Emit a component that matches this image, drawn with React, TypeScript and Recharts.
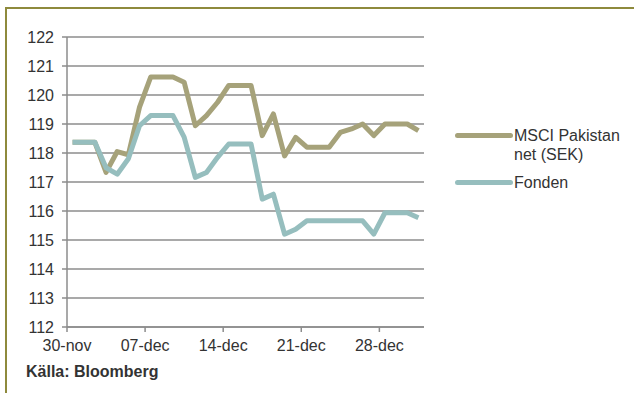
import { LineChart, Line, XAxis, YAxis, CartesianGrid } from 'recharts';

// one value per calendar day, 30-nov .. 31-dec
const msci = [
  118.37, 118.37, 118.37, 117.33, 118.05, 117.94, 119.58, 120.62, 120.62, 120.62,
  120.44, 118.94, 119.29, 119.75, 120.33, 120.33, 120.33, 118.6, 119.35, 117.9,
  118.54, 118.2, 118.2, 118.2, 118.71, 118.83, 119.0, 118.6, 119.0, 119.0,
  119.0, 118.77,
];
const fonden = [
  118.37, 118.37, 118.37, 117.49, 117.27, 117.8, 118.94, 119.29, 119.29, 119.29,
  118.55, 117.16, 117.33, 117.85, 118.31, 118.31, 118.31, 116.41, 116.58, 115.2,
  115.37, 115.66, 115.66, 115.66, 115.66, 115.66, 115.66, 115.2, 115.94, 115.94,
  115.94, 115.77,
];
const tickDays = [0, 7, 14, 21, 28];
const tickLabels = ['30-nov', '07-dec', '14-dec', '21-dec', '28-dec'];
const yTicks = [112, 113, 114, 115, 116, 117, 118, 119, 120, 121, 122];

const OLIVE = '#a6a27a';
const TEAL = '#96bebe';
const TEXT = '#333333';

// points sit in the middle of each day slot (date axis, between tick marks)
const data = msci.map((v, i) => ({ day: i + 0.5, msci: v, fonden: fonden[i] }));

function LegendSwatch({ color }: { color: string }) {
  return (
    <svg width={58} height={19} style={{ display: 'block', flex: 'none' }}>
      <line x1={2.5} y1={9.5} x2={55.5} y2={9.5} stroke={color} strokeWidth={5} strokeLinecap="round" />
    </svg>
  );
}

function ChartLegend() {
  return (
    <div style={{ position: 'absolute', left: 455, top: 125.5, fontSize: 16, lineHeight: '19px', color: TEXT }}>
      <div style={{ display: 'flex', alignItems: 'flex-start' }}>
        <LegendSwatch color={OLIVE} />
        <div style={{ marginLeft: 1 }}>MSCI Pakistan<br />net (SEK)</div>
      </div>
      <div style={{ display: 'flex', alignItems: 'flex-start', marginTop: 9 }}>
        <LegendSwatch color={TEAL} />
        <div style={{ marginLeft: 1 }}>Fonden</div>
      </div>
    </div>
  );
}

export default function App() {
  return (
    <div
      style={{
        position: 'absolute', left: 0, top: 0, width: 634, height: 393, overflow: 'hidden',
        background: '#fff', fontFamily: '"Liberation Sans", Arial, sans-serif',
      }}
    >
      <div
        style={{
          position: 'absolute', left: 5, top: 7, width: 700, height: 500,
          borderTop: '2px solid #8e8a3c', borderLeft: '2px solid #8e8a3c',
        }}
      />
      <LineChart width={634} height={393} data={data} margin={{ top: 37, right: 210, bottom: 0, left: 0 }}>
        <CartesianGrid vertical={false} stroke="#8c8c8c" strokeWidth={1.5} />
        <XAxis
          dataKey="day"
          type="number"
          domain={[0, 32]}
          ticks={tickDays}
          interval={0}
          tickFormatter={(v: number) => tickLabels[tickDays.indexOf(v)] ?? ''}
          height={66}
          tickSize={5}
          tickMargin={8}
          stroke="#8c8c8c"
          strokeWidth={1.5}
          tick={{ fontSize: 16, fill: TEXT }}
        />
        <YAxis
          domain={[112, 122]}
          ticks={yTicks}
          interval={0}
          width={67}
          tickSize={5}
          tickMargin={8}
          stroke="#8c8c8c"
          strokeWidth={1.5}
          tick={{ fontSize: 16, fill: TEXT }}
        />
        <Line dataKey="msci" name="MSCI Pakistan net (SEK)" stroke={OLIVE} strokeWidth={5} dot={false}
          strokeLinejoin="round" isAnimationActive={false} />
        <Line dataKey="fonden" name="Fonden" stroke={TEAL} strokeWidth={5} dot={false}
          strokeLinejoin="round" isAnimationActive={false} />
      </LineChart>
      <ChartLegend />
      <div
        style={{
          position: 'absolute', left: 26, top: 362, fontSize: 16, lineHeight: '19px',
          fontWeight: 'bold', color: TEXT,
        }}
      >
        Källa: Bloomberg
      </div>
    </div>
  );
}
